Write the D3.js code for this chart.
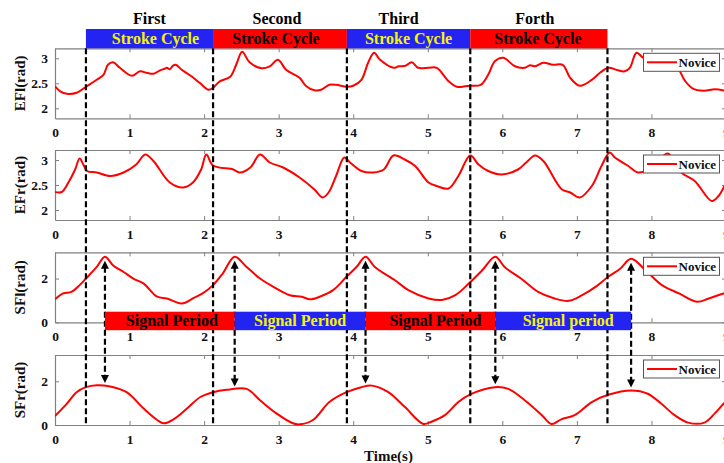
<!DOCTYPE html>
<html>
<head>
<meta charset="utf-8">
<script src="https://cdn.jsdelivr.net/npm/d3@7"></script>
<style>
  html, body { margin: 0; padding: 0; background: #fff; }
  svg { display: block; }
  text { font-family: "Liberation Serif", "Times New Roman", serif; font-weight: bold; }
</style>
</head>
<body>
<svg id="chart" width="724" height="463"></svg>
<script>
// ---------------- DATA ----------------
const xTicks = [0, 1, 2, 3, 4, 5, 6, 7, 8, 9];

const eflT = [0, 0.07, 0.16, 0.29, 0.415, 0.56, 0.65, 0.71, 0.78, 0.87, 1.03, 1.14, 1.23, 1.32, 1.41, 1.47, 1.5, 1.54, 1.58, 1.62, 1.7, 1.83, 1.94, 2.06, 2.12, 2.21, 2.35, 2.43, 2.51, 2.61, 2.77, 2.88, 2.99, 3.1, 3.28, 3.37, 3.48, 3.57, 3.68, 3.77, 3.91, 4.0, 4.11, 4.2, 4.28, 4.36, 4.54, 4.61, 4.7, 4.785, 4.87, 5.01, 5.12, 5.28, 5.39, 5.5, 5.58, 5.71, 5.81, 5.9, 6.01, 6.17, 6.3, 6.37, 6.44, 6.55, 6.68, 6.81, 6.91, 7.04, 7.2, 7.31, 7.42, 7.55, 7.64, 7.71, 7.8, 7.89, 8.0, 8.2, 8.35, 8.45, 8.55, 8.7, 8.85, 9.0];
const eflV = [2.44, 2.34, 2.29, 2.31, 2.43, 2.57, 2.67, 2.87, 2.92, 2.81, 2.65, 2.74, 2.71, 2.69, 2.76, 2.79, 2.81, 2.78, 2.85, 2.87, 2.77, 2.64, 2.51, 2.37, 2.41, 2.54, 2.63, 2.87, 3.13, 2.92, 2.8, 2.84, 2.97, 2.77, 2.61, 2.44, 2.36, 2.37, 2.47, 2.47, 2.43, 2.45, 2.57, 2.91, 3.11, 2.97, 2.81, 2.84, 2.85, 2.92, 2.81, 2.81, 2.81, 2.54, 2.43, 2.44, 2.45, 2.47, 2.67, 2.94, 3.01, 2.84, 2.81, 2.86, 2.84, 2.91, 2.87, 2.87, 2.61, 2.45, 2.57, 2.71, 2.81, 2.76, 2.74, 2.81, 3.11, 3.01, 2.95, 2.9, 2.8, 2.55, 2.4, 2.35, 2.38, 2.35];

const efrT = [0, 0.09, 0.18, 0.27, 0.33, 0.38, 0.43, 0.56, 0.74, 0.92, 1.09, 1.21, 1.32, 1.54, 1.72, 1.85, 1.96, 2.03, 2.12, 2.39, 2.48, 2.62, 2.75, 2.88, 3.06, 3.28, 3.48, 3.59, 3.67, 3.77, 3.88, 3.95, 4.11, 4.27, 4.41, 4.54, 4.69, 4.83, 5.01, 5.12, 5.28, 5.41, 5.57, 5.68, 5.81, 5.99, 6.21, 6.32, 6.44, 6.55, 6.8, 6.91, 7.04, 7.2, 7.33, 7.44, 7.51, 7.69, 7.82, 8.0, 8.1, 8.22, 8.4, 8.58, 8.81, 8.9, 9.0];
const efrV = [2.36, 2.36, 2.55, 2.81, 3.03, 2.91, 2.78, 2.75, 2.68, 2.75, 2.91, 3.11, 2.98, 2.55, 2.45, 2.55, 2.81, 3.11, 2.89, 2.81, 2.75, 2.85, 3.11, 2.95, 2.85, 2.65, 2.41, 2.25, 2.35, 2.68, 3.05, 2.96, 2.78, 2.75, 2.81, 3.09, 3.01, 2.88, 2.55, 2.48, 2.43, 2.68, 3.09, 2.91, 2.78, 2.71, 2.81, 2.95, 3.09, 2.98, 2.41, 2.35, 2.25, 2.48, 2.88, 3.15, 3.05, 2.88, 2.75, 2.85, 3.0, 3.13, 2.75, 2.58, 2.18, 2.28, 2.55];

const sflT = [0, 0.11, 0.22, 0.33, 0.415, 0.56, 0.67, 0.78, 0.92, 1.05, 1.19, 1.37, 1.5, 1.7, 1.85, 1.98, 2.12, 2.25, 2.41, 2.57, 2.75, 2.93, 3.15, 3.31, 3.42, 3.55, 3.73, 3.91, 4.05, 4.165, 4.29, 4.56, 4.74, 5.01, 5.19, 5.37, 5.55, 5.73, 5.906, 6.03, 6.25, 6.48, 6.7, 6.89, 7.07, 7.25, 7.42, 7.58, 7.727, 7.92, 8.14, 8.37, 8.61, 8.77, 8.97, 9.0];
const sflV = [1.05, 1.32, 1.39, 1.7, 2.0, 2.53, 3.0, 2.6, 2.3, 2.0, 1.77, 1.17, 1.09, 0.86, 1.09, 1.32, 1.7, 2.23, 3.0, 2.53, 2.0, 1.62, 1.24, 1.17, 1.05, 1.17, 1.47, 2.08, 2.55, 3.0, 2.53, 1.92, 1.47, 1.09, 1.02, 1.24, 1.77, 2.38, 3.0, 2.53, 2.0, 1.39, 1.09, 0.98, 1.24, 1.62, 2.08, 2.45, 2.9, 2.38, 1.7, 1.32, 0.94, 1.09, 1.32, 1.33];

const sfrT = [0, 0.16, 0.29, 0.415, 0.56, 0.74, 0.96, 1.19, 1.37, 1.46, 1.59, 1.77, 1.95, 2.12, 2.3, 2.57, 2.75, 2.97, 3.19, 3.28, 3.46, 3.68, 3.91, 4.11, 4.25, 4.47, 4.69, 4.94, 5.05, 5.23, 5.41, 5.57, 5.9, 6.08, 6.3, 6.53, 6.66, 6.79, 6.97, 7.2, 7.42, 7.73, 7.95, 8.13, 8.31, 8.49, 8.71, 8.85, 8.97, 9.0];
const sfrV = [0.41, 0.98, 1.5, 1.73, 1.82, 1.76, 1.5, 0.75, 0.23, 0.08, 0.26, 0.75, 1.28, 1.5, 1.61, 1.65, 1.13, 0.53, 0.08, 0.03, 0.23, 1.05, 1.5, 1.73, 1.8, 1.5, 0.83, 0.05, 0.15, 0.45, 1.05, 1.4, 1.73, 1.65, 1.13, 0.45, 0.05, 0.26, 0.45, 1.05, 1.38, 1.58, 1.43, 0.98, 0.45, 0.11, 0.11, 0.53, 0.98, 1.05];

const panelNames = ["EFl(rad)", "EFr(rad)", "SFl(rad)", "SFr(rad)"];
const panelDomains = [[1.8, 3.2], [1.8, 3.2], [0, 3.2], [0, 3.2]];
const panelYTicks = [[2, 2.5, 3], [2, 2.5, 3], [0, 2], [0, 2]];
const legendLabel = "Novice";

const strokeBounds = [0.415, 2.12, 3.915, 5.57, 7.41];
const strokeOrdinals = ["First", "Second", "Third", "Forth"];
const strokeBarLabels = ["Stroke Cycle", "Stroke Cycle", "Stroke Cycle", "Stroke Cycle"];

const signalPeaks = [0.67, 2.41, 4.165, 5.906, 7.727];
const signalBarLabels = ["Signal Period", "Signal Period", "Signal Period", "Signal period"];

const xLabel = "Time(s)";

// ---------------- LAYOUT ----------------
const svg = d3.select("#chart");
const W = 724, H = 463;
const left = 55, right = 726;
const panelTops = [48.3, 150, 252.3, 355];
const panelH = 70;
const gray = "#808080";
const blue = "#2323f2", red = "#ff0000", yellow = "#f5f500";
const strokeTextShift = [6, -4, 0, -1];
const strokeTitleShift = [0, -3, -10, -4];
const signalTextShift = [2, 0, 5, 5];

const x = d3.scaleLinear().domain([0, 9]).range([left, right]);

const series = [
  {t: eflT, v: eflV},
  {t: efrT, v: efrV},
  {t: sflT, v: sflV},
  {t: sfrT, v: sfrV}
];

svg.append("defs").append("clipPath").attr("id", "clipAll")
  .append("rect").attr("x", left).attr("y", 0).attr("width", right - left).attr("height", H);

const yScales = [];

panelTops.forEach((top, i) => {
  const bottom = top + panelH;
  const y = d3.scaleLinear().domain(panelDomains[i]).range([bottom, top]);
  yScales.push(y);
  const g = svg.append("g");

  const ax = g.append("g").attr("transform", `translate(0,${bottom})`)
    .call(d3.axisBottom(x).tickValues(xTicks).tickSizeInner(-4).tickSizeOuter(0).tickPadding(9).tickFormat(d3.format("d")));
  const axT = g.append("g").attr("transform", `translate(0,${top})`)
    .call(d3.axisTop(x).tickValues(xTicks).tickSizeInner(-4).tickSizeOuter(0).tickFormat(""));
  const ayL = g.append("g").attr("transform", `translate(${left},0)`)
    .call(d3.axisLeft(y).tickValues(panelYTicks[i]).tickSizeInner(-4).tickSizeOuter(0).tickPadding(7).tickFormat(d => d));
  const ayR = g.append("g").attr("transform", `translate(${right},0)`)
    .call(d3.axisRight(y).tickValues(panelYTicks[i]).tickSizeInner(-4).tickSizeOuter(0).tickFormat(""));

  [ax, axT, ayL, ayR].forEach(a => {
    a.selectAll("path.domain").attr("stroke", gray).attr("stroke-width", 1.2);
    a.selectAll(".tick line").attr("stroke", gray).attr("stroke-width", 1);
    a.selectAll(".tick text").attr("fill", "#111").attr("font-size", "13.5px")
      .attr("font-family", "Liberation Serif, serif").attr("font-weight", "bold");
  });

  g.append("text")
    .attr("transform", `translate(${25},${top + panelH / 2}) rotate(-90)`)
    .attr("text-anchor", "middle")
    .attr("font-size", "15px")
    .attr("fill", "#111")
    .text(panelNames[i]);

  const s = series[i];
  const pts = s.t.map((t, k) => [t, s.v[k]]);
  const line = d3.line().x(d => x(d[0])).y(d => y(d[1])).curve(d3.curveCatmullRom.alpha(0.5));
  g.append("path")
    .attr("clip-path", "url(#clipAll)")
    .attr("d", line(pts))
    .attr("fill", "none")
    .attr("stroke", red)
    .attr("stroke-width", 2)
    .attr("stroke-linejoin", "round");
});

function interp(ts, vs, t) {
  for (let k = 0; k < ts.length - 1; k++) {
    if (t >= ts[k] && t <= ts[k + 1]) {
      const f = (t - ts[k]) / (ts[k + 1] - ts[k]);
      return vs[k] + f * (vs[k + 1] - vs[k]);
    }
  }
  return vs[vs.length - 1];
}

// stroke-cycle dashed boundaries
const dashTop = panelTops[0];
const dashBottom = panelTops[3] + panelH;
svg.append("g").selectAll("line").data(strokeBounds).join("line")
  .attr("x1", d => x(d)).attr("x2", d => x(d))
  .attr("y1", dashTop).attr("y2", dashBottom)
  .attr("stroke", "#000").attr("stroke-width", 2.2).attr("stroke-dasharray", "6,3");

// signal-period arrows
const arrowG = svg.append("g");
signalPeaks.forEach(t => {
  const xp = x(t);
  const yTop = yScales[2](interp(sflT, sflV, t)) + 4;
  const yBot = yScales[3](interp(sfrT, sfrV, t)) - 3;
  arrowG.append("line")
    .attr("x1", xp).attr("x2", xp).attr("y1", yTop + 6).attr("y2", yBot - 6)
    .attr("stroke", "#000").attr("stroke-width", 2.2).attr("stroke-dasharray", "6,3");
  arrowG.append("path")
    .attr("d", `M${xp},${yTop} L${xp - 4},${yTop + 8} L${xp + 4},${yTop + 8} Z`)
    .attr("fill", "#000");
  arrowG.append("path")
    .attr("d", `M${xp},${yBot} L${xp - 4},${yBot - 8} L${xp + 4},${yBot - 8} Z`)
    .attr("fill", "#000");
});

// legends
panelTops.forEach(top => {
  const lg = svg.append("g").attr("transform", `translate(643.5,${top + 5})`);
  lg.append("rect").attr("width", 76).attr("height", 18)
    .attr("fill", "#fff").attr("stroke", "#555").attr("stroke-width", 1);
  lg.append("line").attr("x1", 3.5).attr("x2", 33.5).attr("y1", 9).attr("y2", 9)
    .attr("stroke", red).attr("stroke-width", 2);
  lg.append("text").attr("x", 35).attr("y", 13.5)
    .attr("font-size", "13px").attr("fill", "#111").text(legendLabel);
});

// stroke-cycle bars
const barTop = 29, barH = 19.3;
const strokeG = svg.append("g");
strokeBarLabels.forEach((lab, i) => {
  const x0 = x(strokeBounds[i]), x1 = x(strokeBounds[i + 1]);
  const isBlue = i % 2 === 0;
  strokeG.append("rect").attr("x", x0).attr("y", barTop).attr("width", x1 - x0).attr("height", barH)
    .attr("fill", isBlue ? blue : red);
  strokeG.append("text").attr("x", (x0 + x1) / 2 + strokeTextShift[i]).attr("y", barTop + 15)
    .attr("text-anchor", "middle").attr("font-size", "16px")
    .attr("fill", isBlue ? yellow : "#000").text(lab);
  strokeG.append("text").attr("x", (x0 + x1) / 2 + strokeTitleShift[i]).attr("y", 24)
    .attr("text-anchor", "middle").attr("font-size", "16px")
    .attr("fill", "#000").text(strokeOrdinals[i]);
});

// signal-period bars
const sBarTop = 311.7, sBarH = 18.5;
const sigG = svg.append("g");
signalBarLabels.forEach((lab, i) => {
  const x0 = x(signalPeaks[i]), x1 = x(signalPeaks[i + 1]);
  const isRed = i % 2 === 0;
  sigG.append("rect").attr("x", x0).attr("y", sBarTop).attr("width", x1 - x0).attr("height", sBarH)
    .attr("fill", isRed ? red : blue);
  sigG.append("text").attr("x", (x0 + x1) / 2 + signalTextShift[i]).attr("y", sBarTop + 14.5)
    .attr("text-anchor", "middle").attr("font-size", "16px")
    .attr("fill", isRed ? "#000" : yellow).text(lab);
});

// x label
svg.append("text").attr("x", (left + right) / 2 - 2).attr("y", 461)
  .attr("text-anchor", "middle").attr("font-size", "15px").attr("fill", "#111").text(xLabel);
</script>
</body>
</html>
